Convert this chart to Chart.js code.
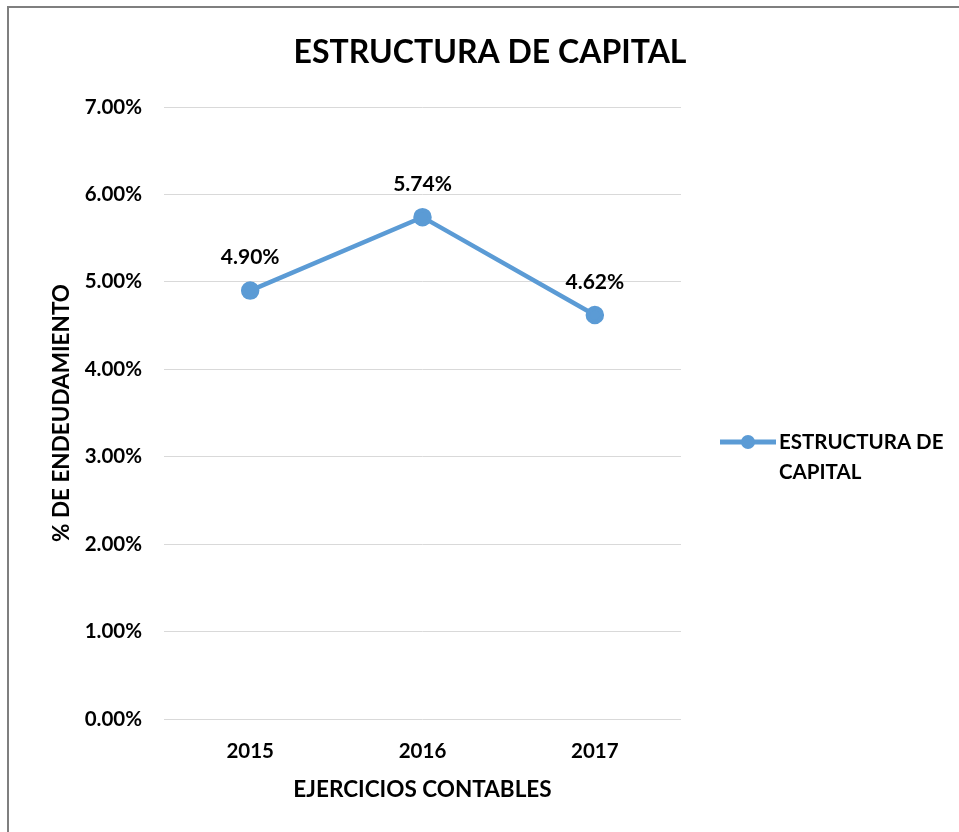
<!DOCTYPE html>
<html>
<head>
<meta charset="utf-8">
<script src="https://cdn.jsdelivr.net/npm/chart.js@4"></script>
<style>
  html, body { margin: 0; padding: 0; background: #fff; }
  canvas { display: block; }
</style>
</head>
<body>
<canvas id="chart" width="959" height="832"></canvas>
<script>
const years = ["2015", "2016", "2017"]
const endeudamiento = [4.90, 5.74, 4.62]
const seriesName = "ESTRUCTURA DE CAPITAL"
const legendLines = ["ESTRUCTURA DE", "CAPITAL"]
const chartTitle = "ESTRUCTURA DE CAPITAL"
const yTitle = "% DE ENDEUDAMIENTO"
const xTitle = "EJERCICIOS CONTABLES"

const lineColor = "#5b9bd5"
const fontFamily = "Lato, 'Open Sans', sans-serif"

// white background, frame, title, point labels and the side legend
const decorations = {
  id: "decorations",
  beforeDraw(chart) {
    const ctx = chart.ctx
    ctx.save()
    ctx.fillStyle = "#fff"
    ctx.fillRect(0, 0, chart.width, chart.height)
    ctx.strokeStyle = "#7f7f7f"
    ctx.lineWidth = 2
    ctx.beginPath()
    ctx.moveTo(8, chart.height)
    ctx.lineTo(8, 7)
    ctx.lineTo(chart.width, 7)
    ctx.stroke()
    ctx.restore()
  },
  afterDraw(chart) {
    const ctx = chart.ctx
    ctx.save()
    ctx.fillStyle = "#000"
    ctx.textAlign = "center"
    ctx.textBaseline = "middle"
    ctx.font = `bold 32px ${fontFamily}`
    ctx.fillText(chartTitle, 490, 53)

    ctx.font = `bold 21px ${fontFamily}`
    const meta = chart.getDatasetMeta(0)
    meta.data.forEach((pt, i) => {
      ctx.fillText(endeudamiento[i].toFixed(2) + "%", pt.x, pt.y - 33)
    })

    // legend
    ctx.strokeStyle = lineColor
    ctx.lineWidth = 5
    ctx.beginPath()
    ctx.moveTo(720, 442)
    ctx.lineTo(776, 442)
    ctx.stroke()
    ctx.fillStyle = lineColor
    ctx.beginPath()
    ctx.arc(748, 442, 7, 0, Math.PI * 2)
    ctx.fill()
    ctx.fillStyle = "#000"
    ctx.textAlign = "left"
    ctx.font = `bold 20.5px ${fontFamily}`
    legendLines.forEach((line, i) => {
      ctx.fillText(line, 779, 442 + i * 30)
    })
    ctx.restore()
  }
}

new Chart(document.getElementById("chart"), {
  type: "line",
  data: {
    labels: years,
    datasets: [
      {
        label: seriesName,
        data: endeudamiento,
        borderColor: lineColor,
        backgroundColor: lineColor,
        borderWidth: 4.5,
        pointRadius: 7,
        pointBackgroundColor: lineColor,
        pointBorderColor: lineColor,
        tension: 0
      }
    ]
  },
  options: {
    responsive: false,
    animation: false,
    layout: {
      padding: { left: 8, right: 278, top: 107, bottom: 0 }
    },
    plugins: {
      legend: { display: false },
      title: { display: false },
      tooltip: { enabled: false }
    },
    scales: {
      x: {
        offset: true,
        grid: { display: false, drawTicks: false },
        border: { display: false },
        ticks: {
          color: "#000",
          padding: 20,
          font: { family: fontFamily, size: 20.5, weight: "bold" }
        },
        title: {
          display: true,
          text: xTitle,
          color: "#000",
          padding: { top: 0, bottom: 29 },
          font: { family: fontFamily, size: 22.5, weight: "bold" }
        },
        afterFit(scale) {
          scale.height = 113
        }
      },
      y: {
        min: 0,
        max: 7,
        grid: { color: "#d9d9d9", lineWidth: 1, drawTicks: false },
        border: { display: false },
        ticks: {
          stepSize: 1,
          color: "#000",
          padding: 22,
          font: { family: fontFamily, size: 20.5, weight: "bold" },
          callback: (v) => v.toFixed(2) + "%"
        },
        title: {
          display: true,
          text: yTitle,
          color: "#000",
          padding: { top: 40, bottom: 0 },
          font: { family: fontFamily, size: 22.5, weight: "bold" }
        },
        afterFit(scale) {
          scale.width = 156
        }
      }
    }
  },
  plugins: [decorations]
})
</script>
</body>
</html>
